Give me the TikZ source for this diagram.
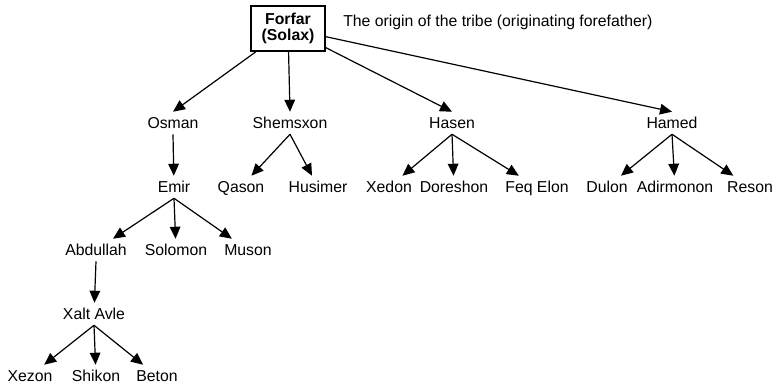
\documentclass[tikz,border=0pt]{standalone}
\usepackage{fontspec}
\setmainfont{Liberation Sans}
\usetikzlibrary{arrows.meta}

\begin{document}
\begin{tikzpicture}
    [x = 0.75pt, y = -0.75pt,
     labelNode/.style = {inner sep = 0pt, anchor = west,
                         font = \fontsize{11.85pt}{12pt}\selectfont,
                         text height = 8.5pt, text depth = 0pt},
     rootNode/.style = {draw, line width = 1.2pt, align = center,
                        inner sep = 0pt, minimum width = 55.5pt,
                        minimum height = 33.75pt,
                        font = \fontsize{11.85pt}{12pt}\selectfont\bfseries},
     nameNode/.style = {inner xsep = 1pt, inner ysep = 4pt,
                        font = \fontsize{11.85pt}{12pt}\selectfont,
                        text height = 8.5pt, text depth = 0pt},
     every edge/.style = {draw, line width = 0.9pt,
                          -{Triangle[length = 9pt, width = 8pt]}}]

    \useasboundingbox (0,0) rectangle (784,385);

    \node at (288,28.5) [rootNode]  (root) {Forfar\\(Solax)};
    \node at (343,20.5) [labelNode] (note)
      {The origin of the tribe (originating forefather)};

    \node at (173,123) [nameNode] (Osman)     {Osman};
    \node at (290,123) [nameNode] (Shemsxon)  {Shemsxon};
    \node at (452,123) [nameNode] (Hasen)     {Hasen};
    \node at (672,123) [nameNode] (Hamed)     {Hamed};

    \node at (174,187) [nameNode] (Emir)      {Emir};
    \node at (241,187) [nameNode] (Qason)     {Qason};
    \node at (318,187) [nameNode] (Husimer)   {Husimer};
    \node at (389,187) [nameNode] (Xedon)     {Xedon};
    \node at (454,187) [nameNode] (Doreshon)  {Doreshon};
    \node at (537,187) [nameNode] (FeqElon)   {Feq Elon};
    \node at (607,187) [nameNode] (Dulon)     {Dulon};
    \node at (675,187) [nameNode] (Adirmonon) {Adirmonon};
    \node at (750,187) [nameNode] (Reson)     {Reson};

    \node at (96, 250) [nameNode] (Abdullah)  {Abdullah};
    \node at (176,250) [nameNode] (Solomon)   {Solomon};
    \node at (248,250) [nameNode] (Muson)     {Muson};

    \node at (94, 314) [nameNode] (XaltAvle)  {Xalt Avle};

    \node at (30, 376) [nameNode] (Xezon)     {Xezon};
    \node at (96, 376) [nameNode] (Shikon)    {Shikon};
    \node at (157,376) [nameNode] (Beton)     {Beton};

    \path
      (root) edge (Osman.north)
      (root) edge (Shemsxon.north)
      (root) edge (Hasen.north)
      (root) edge (Hamed.north)

      (Osman.south) edge (Emir)
      (Shemsxon.south) edge (Qason)
      (Shemsxon.south) edge (Husimer)
      (Hasen.south) edge (Xedon)
      (Hasen.south) edge (Doreshon)
      (Hasen.south) edge (FeqElon)
      (Hamed.south) edge (Dulon)
      (Hamed.south) edge (Adirmonon)
      (Hamed.south) edge (Reson)

      (Emir.south) edge (Abdullah)
      (Emir.south) edge (Solomon)
      (Emir.south) edge (Muson)

      (Abdullah.south) edge (XaltAvle)

      (XaltAvle.south) edge (Xezon)
      (XaltAvle.south) edge (Shikon)
      (XaltAvle.south) edge (Beton);
  \end{tikzpicture}
\end{document}
